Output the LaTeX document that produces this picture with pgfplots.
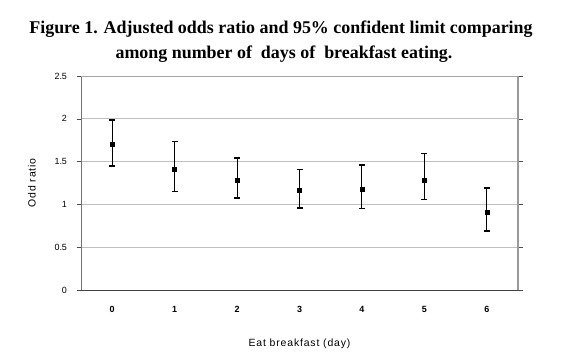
\documentclass[border=0pt]{standalone}
\usepackage{pgfplots}
\pgfplotsset{compat=1.18}
\usepackage{fontspec}
\setmainfont{Liberation Sans}
\newfontfamily\titlefont{Liberation Serif}
\newfontfamily\spacedfont[LetterSpace=8]{Liberation Sans}
\begin{document}
\begin{tikzpicture}[x=1bp,y=1bp]
\useasboundingbox (0,0) rectangle (572,356);
\node[font=\titlefont\bfseries\fontsize{18}{21}\selectfont, anchor=base] at (281,323) {Figure 1. Adjusted odds ratio and 95\% confident limit comparing};
\node[font=\titlefont\bfseries\fontsize{18}{21}\selectfont, anchor=base] at (284,298) {among number of\ \ days of\ \ breakfast eating.};
\begin{axis}[
  at={(81bp,66bp)}, anchor=south west,
  scale only axis, width=437bp, height=214bp,
  xmin=-0.5, xmax=6.5, ymin=0, ymax=2.5,
  xtick={0,1,2,3,4,5,6},
  major x tick style={draw=none},
  extra x ticks={-0.5,0.5,1.5,2.5,3.5,4.5,5.5,6.5},
  extra x tick labels={},
  extra x tick style={tick style={draw=black!70, thin}, major tick length=7bp, tick align=center, grid=none},
  ytick={0,0.5,1,1.5,2,2.5},
  yticklabels={0,0.5,1,1.5,2,2.5},
  ymajorgrids, grid style={draw=black!25, line width=0.8pt},
  y tick style={draw=black!70, thin}, ytick align=outside, major tick length=4.5bp,
  axis line style={draw=none},
  xticklabel style={font=\bfseries\fontsize{9}{10}\selectfont, yshift=-13bp},
  yticklabel style={font=\fontsize{9}{10}\selectfont, xshift=-6bp},
  /pgf/number format/assume math mode=true,
  xlabel={Eat breakfast (day)}, ylabel={Odd ratio},
  label style={font=\spacedfont\fontsize{10.5}{12}\selectfont},
  xlabel style={yshift=-16bp},
  ylabel style={yshift=12bp},
  clip=false,
]
\addplot[only marks, mark=square*, mark size=2bp, black,
  error bars/.cd, y dir=both, y explicit,
  error bar style={line width=1pt, black},
  error mark options={rotate=90, mark size=3bp, line width=1.5pt, black}]
  table[x=x, y=y, y error plus=ep, y error minus=em] {
x y ep em
0 1.706 0.280 0.257
1 1.406 0.331 0.253
2 1.285 0.257 0.210
3 1.164 0.246 0.204
4 1.176 0.284 0.226
5 1.285 0.312 0.230
6 0.907 0.283 0.217
};
\draw[black!55, line width=1pt] (rel axis cs:0,0) -- (rel axis cs:0,1);
\draw[black!35, line width=0.6pt] (rel axis cs:0,1) -- (rel axis cs:1,1);
\draw[black!40, line width=1.6pt] (rel axis cs:1,1) -- (rel axis cs:1,0);
\draw[black!75, line width=0.8pt] (rel axis cs:0,0) -- (rel axis cs:1,0);
\end{axis}
\end{tikzpicture}
\end{document}
